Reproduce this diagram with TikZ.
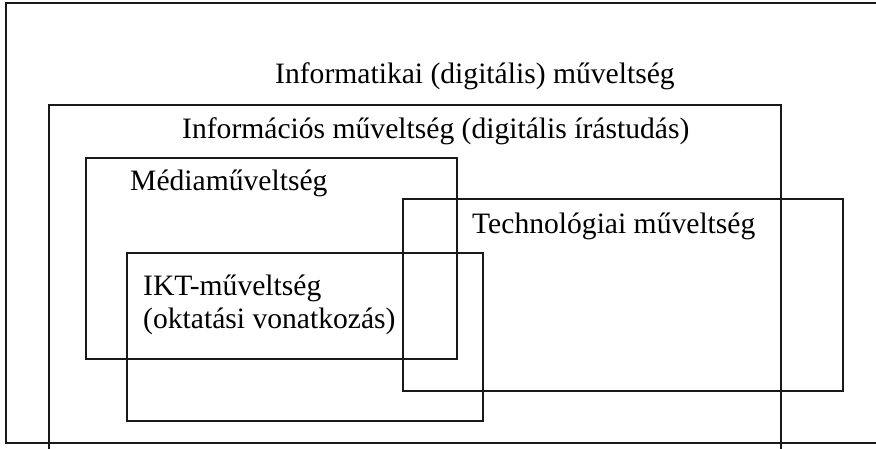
\documentclass[tikz,border=0pt]{standalone}
\usepackage{fontspec}
\setmainfont{Liberation Serif}
\begin{document}
\begin{tikzpicture}[x=1pt,y=-1pt,
  box/.style={draw=black!90,line width=1.3pt},
  lbl/.style={anchor=base west,inner sep=0pt,font=\fontsize{29.6}{33}\selectfont,align=left}]
\useasboundingbox (0,0) rectangle (876,448);
\draw[box] (6,3) rectangle (890,443);
\draw[box] (49,105) rectangle (781,460);
\draw[box] (86,158) rectangle (457,359);
\draw[box] (403,199) rectangle (843,391);
\draw[box] (127,253) rectangle (483,421);
\node[lbl] (t1) at (275,83) {Informatikai (digitális) műveltség};
\node[lbl] (t2) at (182,138) {Információs műveltség (digitális írástudás)};
\node[lbl] (t3) at (130,190) {Médiaműveltség};
\node[lbl] (t4) at (472,233) {Technológiai műveltség};
\node[lbl] (t5) at (143,295) {IKT-műveltség};
\node[lbl] (t6) at (143,328) {(oktatási vonatkozás)};
\end{tikzpicture}
\end{document}
